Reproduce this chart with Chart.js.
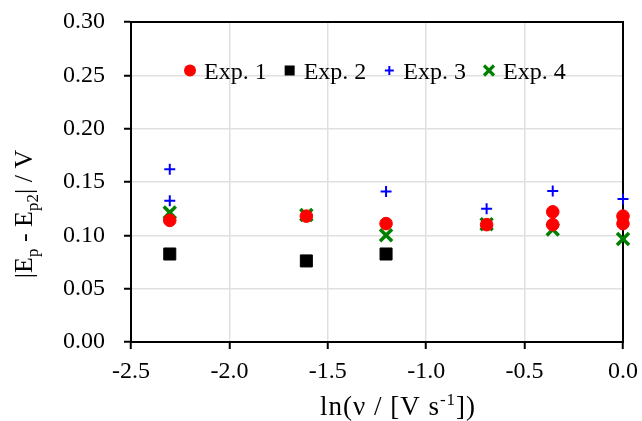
<!DOCTYPE html>
<html>
<head>
<meta charset="utf-8">
<script src="https://cdn.jsdelivr.net/npm/chart.js@4.4.1/dist/chart.umd.min.js"></script>
<style>
html,body{margin:0;padding:0;background:#fff;}
#wrap{width:642px;height:421px;position:relative;}
</style>
</head>
<body>
<div id="wrap"><canvas id="c" width="642" height="421"></canvas></div>
<script>
// ---- data ----
const seriesLabels = ['Exp. 1', 'Exp. 2', 'Exp. 3', 'Exp. 4'];
const exp1X = [-2.303, -1.609, -1.204, -0.693, -0.357, -0.357, 0, 0];
const exp1Y = [0.114, 0.118, 0.111, 0.110, 0.122, 0.110, 0.118, 0.111];
const exp2X = [-2.303, -1.609, -1.204];
const exp2Y = [0.0825, 0.076, 0.0825];
const exp3X = [-2.303, -2.303, -1.204, -0.693, -0.357, 0];
const exp3Y = [0.162, 0.1325, 0.141, 0.125, 0.1415, 0.134];
const exp4X = [-2.303, -1.609, -1.204, -0.693, -0.357, 0];
const exp4Y = [0.1215, 0.119, 0.100, 0.1105, 0.1055, 0.0965];
const xTicks = [-2.5, -2.0, -1.5, -1.0, -0.5, 0.0];
const yTicks = [0.00, 0.05, 0.10, 0.15, 0.20, 0.25, 0.30];

const FONT = '"Liberation Serif", "Times New Roman", serif';
const toPts = (xs, ys) => xs.map((x, i) => ({x: x, y: ys[i]}));

const styles = [
  {color: '#ff0000', pointStyle: 'circle', radius: 6.3, borderWidth: 1},
  {color: '#000000', pointStyle: 'rect', radius: 8.5, borderWidth: 1},
  {color: '#0000ff', pointStyle: 'cross', radius: 5.5, borderWidth: 2},
  {color: '#008000', pointStyle: 'crossRot', radius: 8.5, borderWidth: 3.5}
];
const allData = [toPts(exp1X, exp1Y), toPts(exp2X, exp2Y), toPts(exp3X, exp3Y), toPts(exp4X, exp4Y)];

const datasets = allData.map((d, i) => ({
  label: seriesLabels[i],
  data: d,
  showLine: false,
  clip: false,
  pointStyle: styles[i].pointStyle,
  pointRadius: styles[i].radius,
  pointHoverRadius: styles[i].radius,
  pointBackgroundColor: styles[i].color,
  pointBorderColor: styles[i].color,
  pointBorderWidth: styles[i].borderWidth,
  backgroundColor: styles[i].color,
  borderColor: styles[i].color
}));

function drawMarker(ctx, kind, x, y, color) {
  ctx.save();
  ctx.fillStyle = color; ctx.strokeStyle = color;
  if (kind === 'circle') {
    ctx.beginPath(); ctx.arc(x, y, 6, 0, Math.PI * 2); ctx.fill();
  } else if (kind === 'rect') {
    ctx.fillRect(x - 5, y - 5, 10, 10);
  } else if (kind === 'cross') {
    ctx.lineWidth = 2;
    ctx.beginPath(); ctx.moveTo(x - 4.5, y); ctx.lineTo(x + 4.5, y);
    ctx.moveTo(x, y - 4.5); ctx.lineTo(x, y + 4.5); ctx.stroke();
  } else {
    ctx.lineWidth = 3.2;
    ctx.beginPath(); ctx.moveTo(x - 5, y - 5); ctx.lineTo(x + 5, y + 5);
    ctx.moveTo(x + 5, y - 5); ctx.lineTo(x - 5, y + 5); ctx.stroke();
  }
  ctx.restore();
}

const decorPlugin = {
  id: 'decor',
  beforeDatasetsDraw(chart) {
    const ctx = chart.ctx;
    const a = chart.chartArea;
    ctx.save();
    ctx.strokeStyle = '#000'; ctx.lineWidth = 2;
    ctx.strokeRect(a.left, a.top, a.right - a.left, a.bottom - a.top);
    ctx.restore();
  },
  afterDraw(chart) {
    const ctx = chart.ctx;
    // legend inside plot
    ctx.save();
    ctx.font = '24px ' + FONT;
    ctx.fillStyle = '#000';
    ctx.textBaseline = 'alphabetic';
    let mx = 190;
    const base = 79, my = 70.5;
    chart.data.datasets.forEach((ds, i) => {
      drawMarker(ctx, styles[i].pointStyle, mx, my, styles[i].color);
      const tx = mx + 14;
      ctx.fillText(ds.label, tx, base);
      mx = tx + ctx.measureText(ds.label).width + 23;
    });
    ctx.restore();

    const big = '26px ' + FONT, small = '17px ' + FONT;
    // x axis title: ln(ν / [V s^-1])
    ctx.save();
    ctx.fillStyle = '#000';
    ctx.letterSpacing = '1px';
    const xbig = '27px ' + FONT;
    const parts = [['ln(ν / [V s', xbig, 0], ['-1', small, -10], ['])', xbig, 0]];
    let w = 0;
    parts.forEach(p => { ctx.font = p[1]; w += ctx.measureText(p[0]).width; });
    let x = 398 - w / 2;
    parts.forEach(p => { ctx.font = p[1]; ctx.fillText(p[0], x, 415 + p[2]); x += ctx.measureText(p[0]).width; });
    ctx.restore();

    // y axis title: |E_p - E_p2| / V
    ctx.save();
    ctx.fillStyle = '#000';
    ctx.translate(32, 214);
    ctx.rotate(-Math.PI / 2);
    const yparts = [['|E', big, 0], ['p', small, 6], [' - E', big, 0], ['p2', small, 6], ['| / V', big, 0]];
    let yw = 0;
    yparts.forEach(p => { ctx.font = p[1]; yw += ctx.measureText(p[0]).width; });
    let yx = -yw / 2;
    yparts.forEach(p => { ctx.font = p[1]; ctx.fillText(p[0], yx, p[2]); yx += ctx.measureText(p[0]).width; });
    ctx.restore();
  }
};

new Chart(document.getElementById('c'), {
  type: 'scatter',
  data: {datasets: datasets},
  options: {
    responsive: false,
    animation: false,
    devicePixelRatio: 1,
    layout: {padding: {top: 22, right: 19, left: 0, bottom: 0}},
    plugins: {legend: {display: false}, tooltip: {enabled: false}},
    scales: {
      x: {
        type: 'linear', min: -2.5, max: 0,
        afterBuildTicks: s => { s.ticks = xTicks.map(v => ({value: v})); },
        afterFit: s => { s.height = 79; s.paddingLeft = 0; s.paddingRight = 0; },
        ticks: {font: {family: FONT, size: 24}, color: '#000', padding: 8,
                maxRotation: 0, callback: v => Number(v).toFixed(1)},
        grid: {color: '#e0e0e0', lineWidth: 1.5, tickColor: '#000', tickLength: 7, tickWidth: 2},
        border: {color: '#000', width: 2}
      },
      y: {
        type: 'linear', min: 0, max: 0.3,
        afterBuildTicks: s => { s.ticks = yTicks.map(v => ({value: v})); },
        afterFit: s => { s.width = 131; s.paddingTop = 0; s.paddingBottom = 0; },
        ticks: {font: {family: FONT, size: 24}, color: '#000', padding: 19,
                callback: v => Number(v).toFixed(2)},
        grid: {color: '#e0e0e0', lineWidth: 1.5, tickColor: '#000', tickLength: 7, tickWidth: 2},
        border: {color: '#000', width: 2}
      }
    }
  },
  plugins: [decorPlugin]
});
</script>
</body>
</html>
